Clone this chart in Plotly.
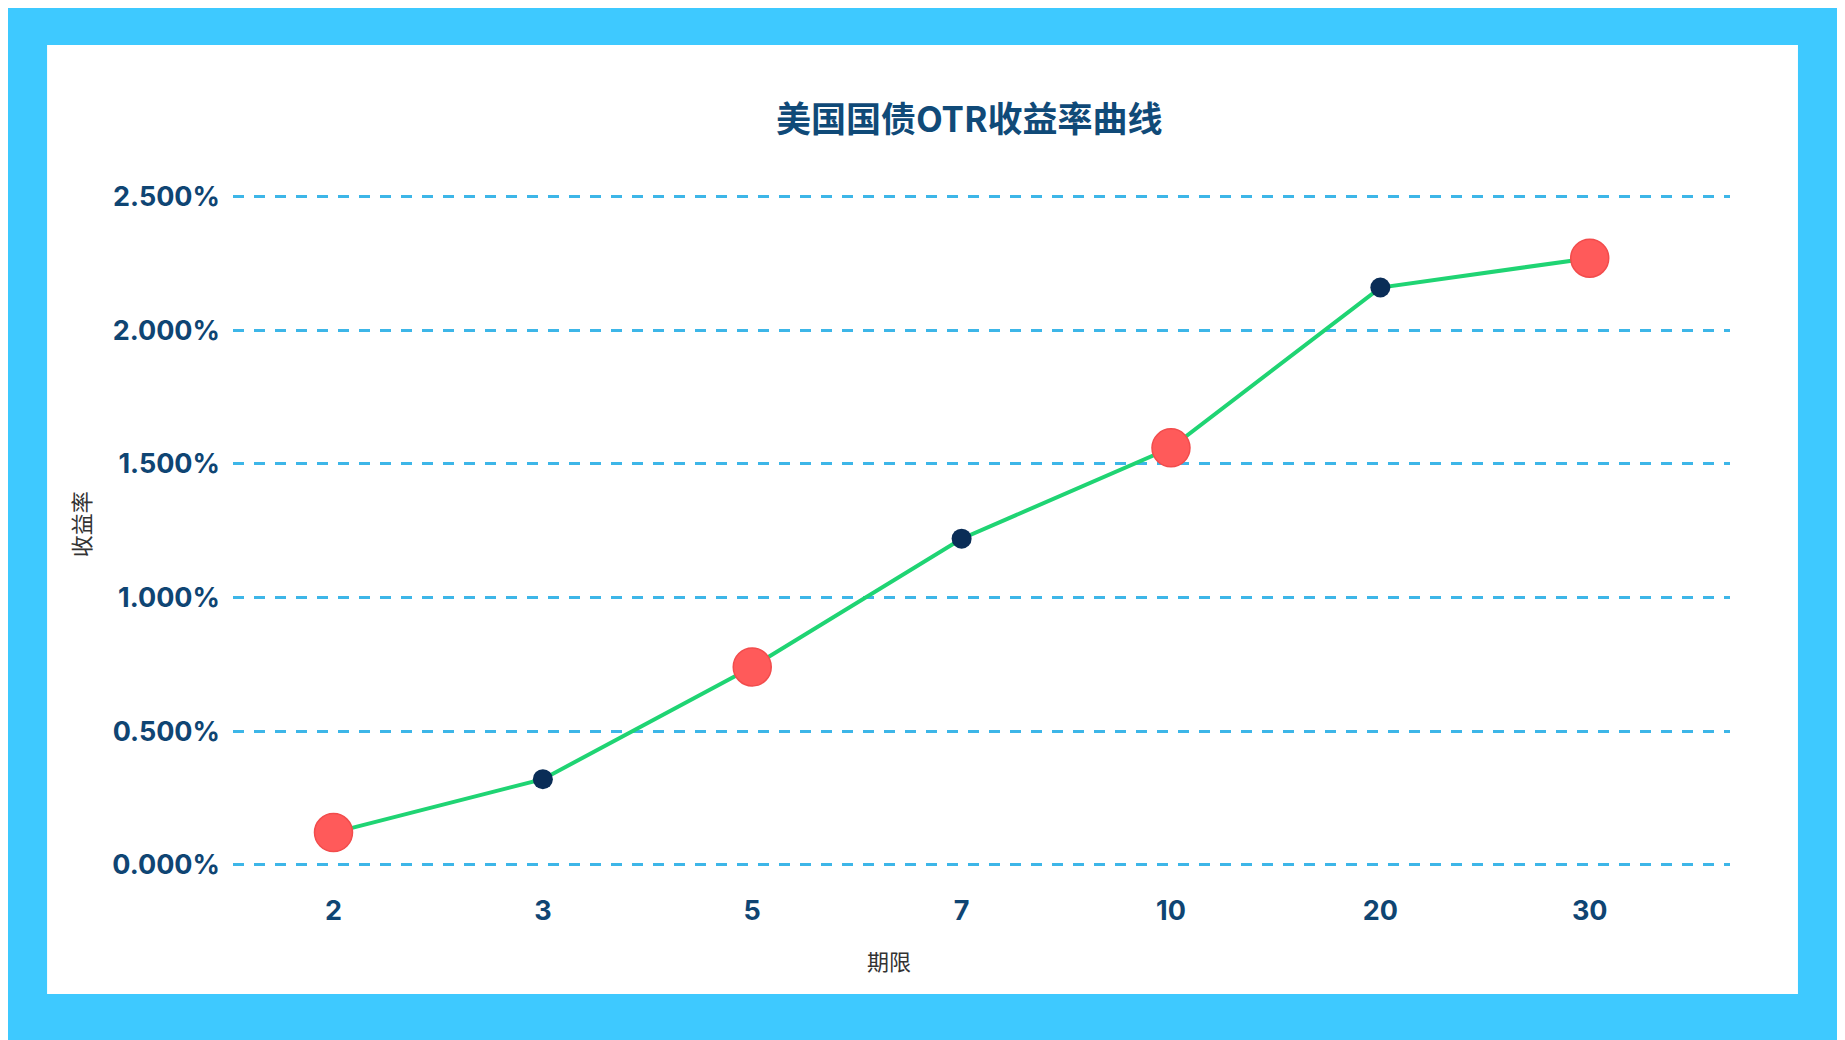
import plotly.graph_objects as go

# 美国国债 OTR 收益率曲线
terms = ["2", "3", "5", "7", "10", "20", "30"]
yields = [0.12, 0.32, 0.74, 1.22, 1.56, 2.16, 2.27]
y_ticks = [0, 0.5, 1.0, 1.5, 2.0, 2.5]
y_tick_text = ["0.000%", "0.500%", "1.000%", "1.500%", "2.000%", "2.500%"]

title_blue = "#104a78"
tick_blue = "#0f4573"
red = "#ff5a5a"
dark_dot = "#0a2d57"
green = "#1fd473"
grid_blue = "#3db6e8"

big = [i % 2 == 0 for i in range(len(terms))]

fig = go.Figure()
fig.add_trace(go.Scatter(x=terms, y=yields, mode="lines",
                         line=dict(color=green, width=4), hoverinfo="skip"))
fig.add_trace(go.Scatter(
    x=[t for t, b in zip(terms, big) if b],
    y=[v for v, b in zip(yields, big) if b],
    mode="markers",
    marker=dict(size=38, color=red, line=dict(color="#f24c4c", width=1.5)),
))
fig.add_trace(go.Scatter(
    x=[t for t, b in zip(terms, big) if not b],
    y=[v for v, b in zip(yields, big) if not b],
    mode="markers",
    marker=dict(size=20, color=dark_dot),
))

# white card
fig.add_shape(type="rect", xref="paper", yref="paper",
              x0=-0.1242, x1=1.0454, y0=-0.1638, y1=1.1766,
              fillcolor="white", line=dict(width=0), layer="below")

fig.add_annotation(text="美国国债OTR收益率曲线", xref="paper", yref="paper",
                   x=0.4923, y=1.076, xanchor="center", yanchor="middle", showarrow=False,
                   font=dict(family="Noto Sans CJK SC", size=35, color=title_blue, weight="bold"))
fig.add_annotation(text="收益率", xref="paper", yref="paper", x=-0.102, y=0.5,
                   xanchor="center", yanchor="middle", textangle=-90, showarrow=False,
                   font=dict(family="Noto Sans CJK SC", size=22, color="#333333"))
fig.add_annotation(text="期限", xref="paper", yref="paper", x=0.4382, y=-0.1158,
                   xanchor="center", yanchor="middle", showarrow=False,
                   font=dict(family="Noto Sans CJK SC", size=22, color="#333333"))

fig.update_layout(
    width=1845, height=1040,
    margin=dict(l=225, r=123, t=162, b=170),
    paper_bgcolor="#3ec9ff",
    plot_bgcolor="white",
    showlegend=False,
    xaxis=dict(type="category", range=[-0.48, 6.67], showgrid=False, zeroline=False,
               showline=False, ticks="", ticklabelstandoff=14,
               tickfont=dict(family="Inter", size=27, color=tick_blue, weight="bold")),
    yaxis=dict(range=[-0.05, 2.6], tickvals=y_ticks, ticktext=y_tick_text,
               showgrid=True, gridcolor=grid_blue, griddash="11px,10px", gridwidth=3,
               zeroline=False, showline=False, ticks="", ticklabelstandoff=12,
               tickfont=dict(family="Inter", size=27, color=tick_blue, weight="bold")),
)

fig.write_html("out.html")
